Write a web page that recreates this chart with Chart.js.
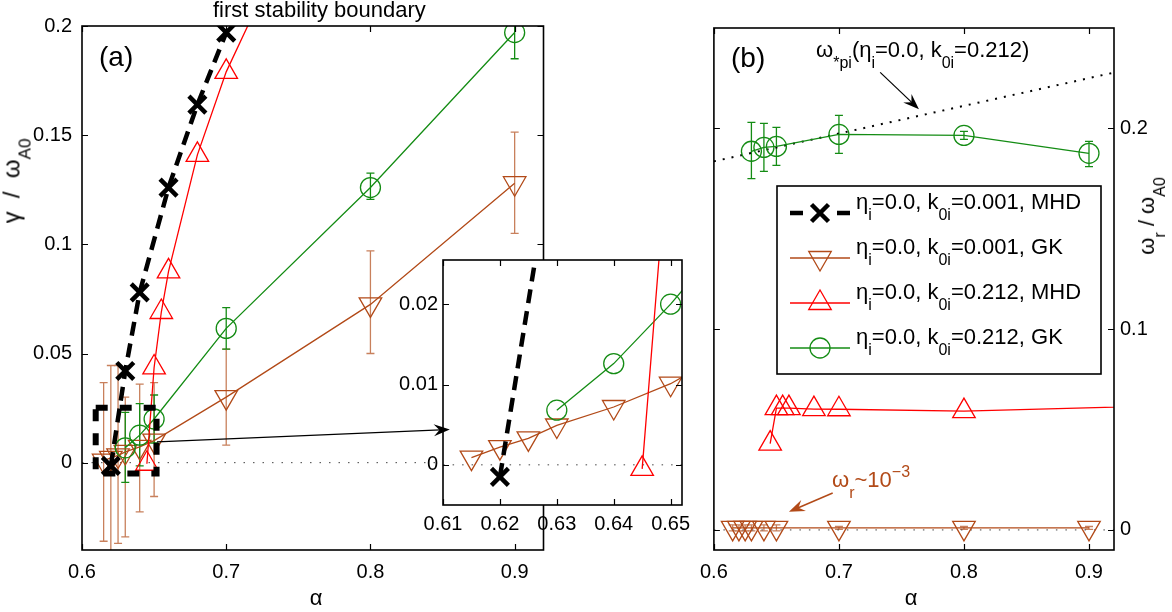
<!DOCTYPE html>
<html>
<head>
<meta charset="utf-8">
<script src="https://cdn.jsdelivr.net/npm/chart.js@4.4.1/dist/chart.umd.min.js"></script>
<style>
  body { margin: 0; background: #fff; }
  #page { position: relative; width: 1172px; height: 612px; overflow: hidden;
          font-family: "Liberation Sans", Arial, sans-serif; color: #000; }
  canvas { position: absolute; }
  .txt { position: absolute; white-space: nowrap; font-size: 22px; line-height: 22px; z-index: 5; }
  .sb { font-size: 16px; position: relative; top: 11px; }
  .sp { font-size: 16px; position: relative; top: -10px; }
  .rot { transform: translate(-50%, -50%) rotate(-90deg); }
  .ctr { transform: translateX(-50%); }
</style>
</head>
<body>
<div id="page">
  <canvas id="chartA" width="560" height="612" style="left:0;top:0;z-index:1"></canvas>
  <canvas id="chartB" width="482" height="612" style="left:690px;top:0;z-index:1"></canvas>
  <canvas id="chartI" width="560" height="320" style="left:150px;top:240px;z-index:2"></canvas>
  <canvas id="arrows" width="1172" height="612" style="left:0;top:0;z-index:3;pointer-events:none"></canvas>

  <div class="txt" style="left:213px;top:-1px">first stability boundary</div>
  <div class="txt" style="left:99px;top:43px;font-size:28px;line-height:28px">(a)</div>
  <div class="txt" style="left:731px;top:44px;font-size:28px;line-height:28px">(b)</div>
  <div class="txt rot" style="left:13px;top:181px;font-size:24px;line-height:24px">γ &nbsp;/&nbsp; ω<span class="sb" style="font-size:17px">A0</span></div>
  <div class="txt rot" style="left:1148px;top:216px">ω<span class="sb">r</span> / ω<span class="sb">A0</span></div>
  <div class="txt ctr" style="left:316px;top:587px">α</div>
  <div class="txt ctr" style="left:911px;top:587px">α</div>
  <div class="txt" style="left:816px;top:39px">ω<span class="sb">*pi</span>(η<span class="sb">i</span>=0.0, k<span class="sb">0i</span>=0.212)</div>
  <div class="txt" style="left:832px;top:469px;color:rgb(178,74,24)">ω<span class="sb">r</span>~10<span class="sp">−3</span></div>
  <div id="legendText"></div>
</div>

<script>
// ======================
// Dữ liệu
// ======================
const seriesNames = [
  'η<span class="sb">i</span>=0.0, k<span class="sb">0i</span>=0.001, MHD',
  'η<span class="sb">i</span>=0.0, k<span class="sb">0i</span>=0.001, GK',
  'η<span class="sb">i</span>=0.0, k<span class="sb">0i</span>=0.212, MHD',
  'η<span class="sb">i</span>=0.0, k<span class="sb">0i</span>=0.212, GK'
];

// MHD, k0i = 0.001 (chỉ có γ)
const mhd1Alpha = [0.62, 0.63, 0.64, 0.66, 0.68, 0.70];
const mhd1Gamma = [-0.0015, 0.042, 0.078, 0.126, 0.164, 0.197];

// GK, k0i = 0.001
const gk1Alpha   = [0.615, 0.62, 0.625, 0.63, 0.64, 0.65, 0.70, 0.80, 0.90];
const gk1Gamma   = [0.0009, 0.0022, 0.0033, 0.0049, 0.0072, 0.0101, 0.030, 0.0725, 0.128];
const gk1GammaLo = [-0.036, -0.045, -0.037, -0.034, -0.0225, -0.0155, 0.008, 0.050, 0.105];
const gk1GammaHi = [0.0367, 0.0445, 0.0445, 0.030, 0.036, 0.0367, 0.052, 0.097, 0.1514];
const gk1Omega   = [0.001, 0.001, 0.001, 0.001, 0.001, 0.001, 0.001, 0.001, 0.001];
const gk1OmegaLo = [-0.0005, -0.0005, -0.0005, -0.0005, -0.0005, -0.0005, 0.0003, 0.0003, 0.0003];
const gk1OmegaHi = [0.0025, 0.0025, 0.0025, 0.0025, 0.0025, 0.0025, 0.0017, 0.0017, 0.0017];

// MHD, k0i = 0.212
const mhd2Alpha = [0.645, 0.65, 0.655, 0.66, 0.68, 0.70, 0.80, 1.0];
const mhd2Gamma = [-0.0005, 0.0436, 0.069, 0.0876, 0.141, 0.179, 0.32, null];
const mhd2Omega = [0.043, 0.0607, 0.0607, 0.0607, 0.0602, 0.0601, 0.0592, 0.0625];

// GK, k0i = 0.212
const gk2Alpha   = [0.63, 0.64, 0.65, 0.70, 0.80, 0.90];
const gk2Gamma   = [0.0068, 0.0126, 0.020, 0.0615, 0.126, 0.197];
const gk2GammaLo = [-0.009, -0.0015, 0.009, 0.052, 0.1206, 0.185];
const gk2GammaHi = [0.023, 0.027, 0.031, 0.071, 0.1326, 0.21];
const gk2Omega   = [0.1886, 0.1905, 0.191, 0.197, 0.1965, 0.1876];
const gk2OmegaLo = [0.175, 0.1786, 0.1816, 0.1876, 0.1945, 0.181];
const gk2OmegaHi = [0.203, 0.2025, 0.2005, 0.2065, 0.1985, 0.1935];

// ω*pi (η=0.0, k0i=0.212)
const wpiAlpha = [0.6, 0.92];
const wpiOmega = [0.1836, 0.2278];

// đường 0 và khung phóng to
const zeroAlpha = [0.6, 0.92];
const zeroValue = [0, 0];
const boxAlpha = [0.6095, 0.6517, 0.6517, 0.6095, 0.6095];
const boxGamma = [0.0252, 0.0252, -0.005, -0.005, 0.0252];

// trục / nhãn trục
const aXTicks = [0.6, 0.7, 0.8, 0.9];
const aYTicks = [0, 0.05, 0.1, 0.15, 0.2];
const iXTicks = [0.61, 0.62, 0.63, 0.64, 0.65];
const iYTicks = [0, 0.01, 0.02];
const bXTicks = [0.6, 0.7, 0.8, 0.9];
const bYTicks = [0, 0.1, 0.2];

// ======================
// Màu & kiểu
// ======================
const FONT = '"Liberation Sans", Arial, sans-serif';
const BROWN = 'rgb(178,74,24)';
const BROWN_ERR = 'rgb(200,128,92)';
const GREEN = 'rgb(20,140,20)';
const RED = '#ff0000';
const NONE = 'rgba(0,0,0,0)';

const styles = {
  mhd1: { borderColor: '#000', borderWidth: 4.5, borderDash: [14, 8], pointStyle: 'crossRot',
          pointRadius: 12, pointBorderWidth: 4.5, pointBorderColor: '#000', order: 1 },
  gk1:  { borderColor: BROWN, borderWidth: 1.3, pointStyle: 'triangle', pointRotation: 180,
          pointRadius: 13, pointBorderWidth: 1.3, pointBorderColor: BROWN, order: 4, errColor: BROWN_ERR },
  mhd2: { borderColor: RED, borderWidth: 1.3, pointStyle: 'triangle',
          pointRadius: 13, pointBorderWidth: 1.3, pointBorderColor: RED, order: 2 },
  gk2:  { borderColor: GREEN, borderWidth: 1.3, pointStyle: 'circle',
          pointRadius: 10, pointBorderWidth: 1.3, pointBorderColor: GREEN, order: 3, errColor: GREEN },
  zero: { borderColor: '#444', borderWidth: 1, borderDash: [1.5, 8], pointRadius: 0, order: 6 },
  wpi:  { borderColor: '#000', borderWidth: 2, borderDash: [2, 7], pointRadius: 0, order: 5 },
  box:  { borderColor: '#000', borderWidth: 6, borderDash: [12, 12], pointRadius: 0, order: 0 }
};

function pts(xs, ys) {
  return xs.map((x, i) => ({ x: x, y: ys[i] }));
}

function series(style, xs, ys, lo, hi) {
  const ds = Object.assign({
    data: pts(xs, ys), showLine: true, fill: false, tension: 0, spanGaps: false,
    pointBackgroundColor: NONE
  }, styles[style]);
  ds.pointHoverRadius = ds.pointRadius;
  if (lo) { ds.errLo = lo; ds.errHi = hi; }
  return ds;
}

// ======================
// Plugin: thanh sai số, khung, nền trắng, chú giải
// ======================
const errorBarPlugin = {
  id: 'errorBars',
  beforeDatasetsDraw(chart) {
    const ctx = chart.ctx, xs = chart.scales.x, ys = chart.scales.y, a = chart.chartArea;
    ctx.save();
    ctx.beginPath();
    ctx.rect(a.left, a.top, a.right - a.left, a.bottom - a.top);
    ctx.clip();
    chart.data.datasets.forEach(ds => {
      if (!ds.errLo) return;
      ctx.strokeStyle = ds.errColor || ds.borderColor;
      ctx.lineWidth = 1.3;
      ctx.setLineDash([]);
      ds.data.forEach((p, i) => {
        const px = xs.getPixelForValue(p.x);
        const y0 = ys.getPixelForValue(ds.errLo[i]);
        const y1 = ys.getPixelForValue(ds.errHi[i]);
        ctx.beginPath();
        ctx.moveTo(px, y0); ctx.lineTo(px, y1);
        ctx.moveTo(px - 4, y0); ctx.lineTo(px + 4, y0);
        ctx.moveTo(px - 4, y1); ctx.lineTo(px + 4, y1);
        ctx.stroke();
      });
    });
    ctx.restore();
  }
};

const framePlugin = {
  id: 'frame',
  afterDraw(chart) {
    const ctx = chart.ctx, a = chart.chartArea, xs = chart.scales.x, ys = chart.scales.y;
    ctx.save();
    ctx.setLineDash([]);
    ctx.strokeStyle = '#000';
    ctx.lineWidth = 1.6;
    ctx.strokeRect(a.left, a.top, a.right - a.left, a.bottom - a.top);
    ctx.lineWidth = 1.2;
    ctx.beginPath();
    xs.ticks.forEach(t => {
      const p = Math.round(xs.getPixelForValue(t.value)) + 0.5;
      ctx.moveTo(p, a.bottom); ctx.lineTo(p, a.bottom - 6);
      ctx.moveTo(p, a.top); ctx.lineTo(p, a.top + 6);
    });
    ys.ticks.forEach(t => {
      const p = Math.round(ys.getPixelForValue(t.value)) + 0.5;
      ctx.moveTo(a.left, p); ctx.lineTo(a.left + 6, p);
      ctx.moveTo(a.right, p); ctx.lineTo(a.right - 6, p);
    });
    ctx.stroke();
    ctx.restore();
  }
};

const whiteAreaPlugin = {
  id: 'whiteArea',
  beforeDraw(chart) {
    const a = chart.chartArea;
    chart.ctx.save();
    chart.ctx.fillStyle = '#fff';
    chart.ctx.fillRect(a.left, a.top, a.right - a.left, a.bottom - a.top);
    chart.ctx.restore();
  }
};

function drawMarker(ctx, kind, x, y) {
  ctx.beginPath();
  if (kind === 'x') {
    const d = 8.5;
    ctx.moveTo(x - d, y - d); ctx.lineTo(x + d, y + d);
    ctx.moveTo(x - d, y + d); ctx.lineTo(x + d, y - d);
  } else if (kind === 'up' || kind === 'down') {
    const s = kind === 'up' ? 1 : -1, r = 13;
    ctx.moveTo(x, y - s * r);
    ctx.lineTo(x - r * 0.866, y + s * r / 2);
    ctx.lineTo(x + r * 0.866, y + s * r / 2);
    ctx.closePath();
  } else {
    ctx.arc(x, y, 10, 0, Math.PI * 2);
  }
  ctx.stroke();
}

// hộp chú giải (vẽ trên canvas của hình b, chữ là HTML)
const legendBox = { left: 87, top: 186, width: 324, height: 188, rowY: [213, 258, 303, 348] };
const legendKinds = [
  { color: '#000', marker: 'x', dashed: true },
  { color: BROWN, marker: 'down' },
  { color: RED, marker: 'up' },
  { color: GREEN, marker: 'circle' }
];

const legendPlugin = {
  id: 'legendBox',
  afterDraw(chart) {
    const ctx = chart.ctx, L = legendBox;
    ctx.save();
    ctx.setLineDash([]);
    ctx.fillStyle = '#fff';
    ctx.fillRect(L.left, L.top, L.width, L.height);
    ctx.strokeStyle = '#000';
    ctx.lineWidth = 1.6;
    ctx.strokeRect(L.left, L.top, L.width, L.height);
    legendKinds.forEach((k, i) => {
      const y = L.rowY[i];
      ctx.strokeStyle = k.color;
      ctx.beginPath();
      if (k.dashed) {
        ctx.lineWidth = 4.5;
        ctx.moveTo(100, y); ctx.lineTo(113, y);
        ctx.moveTo(147, y); ctx.lineTo(160, y);
      } else {
        ctx.lineWidth = 1.3;
        ctx.moveTo(100, y); ctx.lineTo(160, y);
      }
      ctx.stroke();
      drawMarker(ctx, k.marker, 130, y);
    });
    ctx.restore();
  }
};

// ======================
// Tạo biểu đồ
// ======================
function axis(a, pos) {
  return {
    type: 'linear', position: pos, min: a.min, max: a.max,
    grid: { display: false, drawTicks: false },
    border: { display: false },
    ticks: {
      autoSkip: false, maxRotation: 0, padding: a.pad, color: '#000',
      font: { size: 20, family: FONT },
      callback: v => String(v)
    },
    afterBuildTicks: s => { s.ticks = a.ticks.map(v => ({ value: v })); },
    afterFit: s => {
      if (s.isHorizontal()) s.height = a.size; else s.width = a.size;
    }
  };
}

function makeChart(id, cfg) {
  return new Chart(document.getElementById(id), {
    type: 'scatter',
    data: { datasets: cfg.datasets },
    options: {
      responsive: false, animation: false, events: [],
      layout: { padding: cfg.padding },
      plugins: { legend: { display: false }, tooltip: { enabled: false } },
      scales: { x: axis(cfg.x, 'bottom'), y: axis(cfg.y, cfg.yPos) }
    },
    plugins: cfg.plugins
  });
}

Chart.defaults.font.family = FONT;

const chartA = makeChart('chartA', {
  padding: { left: 0, top: 26, right: 7, bottom: 0 },
  x: { min: 0.6, max: 0.92, ticks: aXTicks, pad: 10, size: 62 },
  y: { min: -0.04, max: 0.2, ticks: aYTicks, pad: 10, size: 82 },
  yPos: 'left',
  datasets: [
    series('zero', zeroAlpha, zeroValue),
    series('gk1', gk1Alpha, gk1Gamma, gk1GammaLo, gk1GammaHi),
    series('gk2', gk2Alpha, gk2Gamma, gk2GammaLo, gk2GammaHi),
    series('mhd2', mhd2Alpha, mhd2Gamma),
    series('mhd1', mhd1Alpha, mhd1Gamma),
    series('box', boxAlpha, boxGamma)
  ],
  plugins: [errorBarPlugin, framePlugin]
});

const chartI = makeChart('chartI', {
  padding: { left: 240, top: 20, right: 28, bottom: 0 },
  x: { min: 0.61, max: 0.652, ticks: iXTicks, pad: 7.5, size: 55 },
  y: { min: -0.005, max: 0.0255, ticks: iYTicks, pad: 5, size: 53 },
  yPos: 'left',
  datasets: [
    series('zero', zeroAlpha, zeroValue),
    series('gk1', gk1Alpha, gk1Gamma),
    series('gk2', gk2Alpha, gk2Gamma),
    series('mhd2', mhd2Alpha, mhd2Gamma),
    series('mhd1', mhd1Alpha, mhd1Gamma)
  ],
  plugins: [whiteAreaPlugin, framePlugin]
});

const chartB = makeChart('chartB', {
  padding: { left: 23, top: 28, right: 0, bottom: 0 },
  x: { min: 0.6, max: 0.92, ticks: bXTicks, pad: 10, size: 62 },
  y: { min: -0.01, max: 0.25, ticks: bYTicks, pad: 6, size: 58 },
  yPos: 'right',
  datasets: [
    series('zero', zeroAlpha, zeroValue),
    series('wpi', wpiAlpha, wpiOmega),
    series('gk1', gk1Alpha, gk1Omega, gk1OmegaLo, gk1OmegaHi),
    series('mhd2', mhd2Alpha, mhd2Omega),
    series('gk2', gk2Alpha, gk2Omega, gk2OmegaLo, gk2OmegaHi)
  ],
  plugins: [errorBarPlugin, framePlugin, legendPlugin]
});

// chữ chú giải
const legendHtml = seriesNames.map((name, i) =>
  '<div class="txt" style="left:856px;top:' + (191 + i * 45) + 'px">' + name + '</div>'
).join('');
document.getElementById('legendText').innerHTML = legendHtml;

// ======================
// Mũi tên chú thích (toạ độ theo dữ liệu)
// ======================
function toPage(chart, x, y) {
  const c = chart.canvas;
  return [c.offsetLeft + chart.scales.x.getPixelForValue(x),
          c.offsetTop + chart.scales.y.getPixelForValue(y)];
}

function drawArrow(ctx, p0, p1, color, width) {
  const ang = Math.atan2(p1[1] - p0[1], p1[0] - p0[0]);
  const L = 16, W = 6;
  ctx.save();
  ctx.strokeStyle = color;
  ctx.fillStyle = color;
  ctx.lineWidth = width;
  ctx.beginPath();
  ctx.moveTo(p0[0], p0[1]);
  ctx.lineTo(p1[0] - Math.cos(ang) * L * 0.6, p1[1] - Math.sin(ang) * L * 0.6);
  ctx.stroke();
  ctx.translate(p1[0], p1[1]);
  ctx.rotate(ang);
  ctx.beginPath();
  ctx.moveTo(0, 0);
  ctx.lineTo(-L, -W);
  ctx.lineTo(-L * 0.65, 0);
  ctx.lineTo(-L, W);
  ctx.closePath();
  ctx.fill();
  ctx.restore();
}

const actx = document.getElementById('arrows').getContext('2d');
drawArrow(actx, toPage(chartA, 0.652, 0.0095), toPage(chartI, 0.6112, 0.0044), '#000', 1.2);
drawArrow(actx, toPage(chartB, 0.733, 0.2279), toPage(chartB, 0.764, 0.2095), '#000', 1.2);
drawArrow(actx, toPage(chartB, 0.695, 0.0184), toPage(chartB, 0.66, 0.009), BROWN, 1.5);
</script>
</body>
</html>
